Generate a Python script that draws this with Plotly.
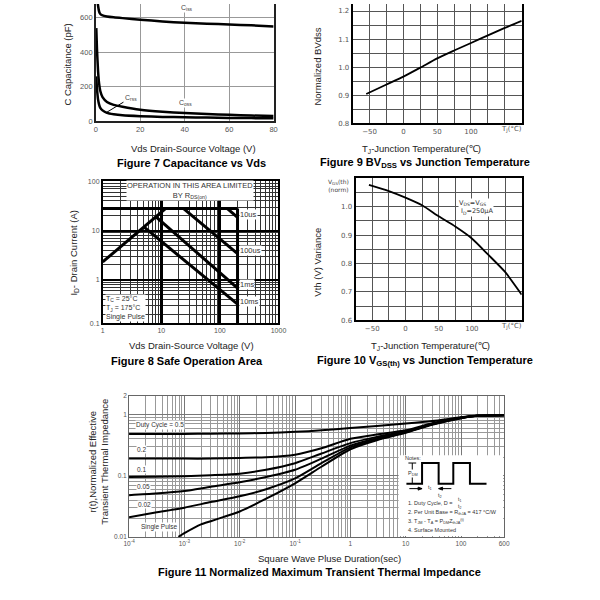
import math

import plotly.graph_objects as go

SANS = "Arial, 'Liberation Sans', sans-serif"
WIDE = "'DejaVu Sans', Verdana, sans-serif"

# Figure 7: capacitance vs Vds
ciss_vds = [0.3, 0.6, 1.0, 1.5, 2.0, 3.0, 5.0, 8.0, 12, 20, 30, 40, 50, 60, 70, 80]
ciss_pf = [850, 730, 670, 635, 622, 614, 608, 603, 598, 589, 579, 571, 566, 561, 556, 550]
coss_vds = [0.2, 0.5, 1.0, 1.5, 2.0, 3.0, 5.0, 8.0, 12, 20, 30, 40, 50, 60, 70, 80]
coss_pf = [540, 420, 290, 215, 175, 140, 112, 95, 84, 67, 55, 47, 42, 37, 33, 30]
crss_vds = [0.2, 0.5, 1.0, 1.5, 2.0, 3.0, 5.0, 8.0, 12, 20, 30, 40, 50, 60, 70, 80]
crss_pf = [260, 190, 125, 95, 78, 63, 48, 40, 34, 29, 25, 23, 21, 19, 18, 17]

# Figure 9: normalized BVdss vs Tj
bv_tj = [-55, -25, 0, 25, 50, 75, 100, 125, 150, 175]
bv_norm = [0.904, 0.938, 0.966, 0.998, 1.031, 1.059, 1.086, 1.113, 1.14, 1.165]

# Figure 10: normalized Vgs(th) vs Tj
vth_tj = [-55, -25, 0, 25, 50, 75, 100, 125, 150, 175]
vth_norm = [1.077, 1.055, 1.032, 1.005, 0.966, 0.93, 0.888, 0.83, 0.77, 0.69]

# Figure 8: safe operating area
rds_v, rds_i = [1, 11.8], [2.3, 28]
ilim_v, ilim_i = [1, 200], [28, 28]
vmax_v, vmax_i = [200, 200], [28, 0.1]
soa_lines = {
    "10us": ([134, 200], [28, 18.6], 21.5),
    "100us": ([24, 200], [28, 3.4], 3.85),
    "1ms": ([8.3, 200], [18.5, 0.68], 0.8),
    "10ms": ([5.1, 200], [11.7, 0.32], 0.36),
}

# Figure 11: transient thermal impedance
pulse_t = [1e-4, 3e-4, 1e-3, 3e-3, 1e-2, 3e-2, 1e-1, 3e-1, 1, 3, 10, 30, 100, 200, 600]
zth_duty = {
    "0.5": [0.48, 0.48, 0.48, 0.485, 0.49, 0.50, 0.52, 0.55, 0.60, 0.65, 0.71, 0.78, 0.90, 0.96, 0.97],
    "0.2": [0.19, 0.19, 0.19, 0.19, 0.195, 0.20, 0.22, 0.28, 0.40, 0.47, 0.55, 0.72, 0.89, 0.95, 0.97],
    "0.1": [0.095, 0.096, 0.098, 0.102, 0.108, 0.125, 0.16, 0.23, 0.34, 0.43, 0.53, 0.70, 0.88, 0.95, 0.97],
    "0.05": [0.048, 0.051, 0.056, 0.066, 0.078, 0.095, 0.125, 0.19, 0.31, 0.41, 0.52, 0.69, 0.88, 0.95, 0.97],
    "0.02": [0.021, 0.025, 0.030, 0.037, 0.046, 0.06, 0.09, 0.16, 0.29, 0.39, 0.51, 0.69, 0.87, 0.95, 0.97],
}
single_t = [7.8e-4, 1e-3, 2e-3, 3e-3, 5e-3, 1e-2, 3e-2, 1e-1, 3e-1, 1, 3, 10, 30, 100, 200, 600]
single_z = [0.010, 0.0115, 0.016, 0.018, 0.021, 0.026, 0.042, 0.075, 0.14, 0.27, 0.38, 0.50, 0.68, 0.87, 0.95, 0.97]


def X(px):
    return px / 600


def Y(py):
    return 1 - py / 600


def log_minor(e0, e1, vmin=0, vmax=1e9):
    out = []
    for e in range(e0, e1 + 1):
        for m in range(2, 10):
            v = m * 10 ** e
            if vmin < v < vmax:
                out.append(v)
    return out


def curve(x, y, ax, width=2.5):
    return go.Scatter(
        x=x, y=y, mode="lines", xaxis="x" + ax, yaxis="y" + ax,
        line=dict(color="black", width=width, shape="spline", smoothing=0.6),
        showlegend=False, hoverinfo="skip",
    )


def label(x, y, text, size=9.5, bold=False, angle=0, family=SANS, color="#222",
          xanchor="center", align="center", bg=None, xref="paper", yref="paper"):
    d = dict(
        x=x, y=y, xref=xref, yref=yref, text=f"<b>{text}</b>" if bold else text,
        showarrow=False, textangle=angle, xanchor=xanchor, yanchor="middle",
        align=align, font=dict(family=family, size=size, color=color), borderpad=0,
    )
    if bg:
        d["bgcolor"] = bg
    return d


fig = go.Figure()

fig.add_trace(curve(ciss_vds, ciss_pf, "1"))
fig.add_trace(curve(coss_vds, coss_pf, "1"))
fig.add_trace(curve(crss_vds, crss_pf, "1"))
fig.add_trace(curve(bv_tj, bv_norm, "2", width=1.8))
fig.add_trace(curve(rds_v, rds_i, "3", width=3))
fig.add_trace(curve(ilim_v, ilim_i, "3", width=3))
fig.add_trace(curve(vmax_v, vmax_i, "3", width=3))
for v, i, _ in soa_lines.values():
    fig.add_trace(curve(v, i, "3", width=3))
fig.add_trace(curve(vth_tj, vth_norm, "4", width=1.8))
for z in zth_duty.values():
    fig.add_trace(curve(pulse_t, z, "5", width=2))
fig.add_trace(curve(single_t, single_z, "5", width=2))

tick_font = dict(family=SANS, size=7.5, color="#555")
wide_tick = dict(family=WIDE, size=7, color="#555")
base = dict(showline=True, ticks="", zeroline=False, showgrid=True)
lin_minor = dict(tickmode="array", showgrid=True, gridcolor="#555", gridwidth=1, ticks="")

temp_vals = [-50, 0, 50, 100]
temp_text = ["\u221250", "0", "50", "100"]
temp_minor = [-25, 25, 75, 125, 150]

fig.update_layout(
    width=600, height=600, margin=dict(l=0, r=0, t=0, b=0),
    paper_bgcolor="white", plot_bgcolor="white", showlegend=False,
    xaxis1=dict(base, domain=[X(92), X(274)], anchor="y1", range=[0, 80],
                tickvals=[0, 20, 40, 60, 80], linecolor="#222", linewidth=1.5,
                gridcolor="#999", gridwidth=1, tickfont=tick_font),
    yaxis1=dict(base, domain=[Y(119), 1], anchor="x1", range=[0, 680], mirror=True,
                tickvals=[0, 200, 400, 600], linecolor="#222", linewidth=1.5,
                gridcolor="#999", gridwidth=1, tickfont=tick_font),
    xaxis2=dict(base, domain=[X(355), X(528)], anchor="y2", range=[-75, 175],
                tickvals=temp_vals, ticktext=temp_text, linecolor="black", linewidth=2,
                gridcolor="#555", gridwidth=1, tickfont=wide_tick,
                minor=dict(lin_minor, tickvals=temp_minor)),
    yaxis2=dict(base, domain=[Y(121), 1], anchor="x2", range=[0.8, 1.225], mirror=True,
                tickvals=[0.8, 0.9, 1.0, 1.1, 1.2], ticktext=["0.8", "0.9", "1.0", "1.1", "1.2"],
                linecolor="black", linewidth=2, gridcolor="#555", gridwidth=1,
                tickfont=wide_tick, minor=dict(lin_minor, tickvals=[0.85, 0.95, 1.05, 1.15])),
    xaxis3=dict(base, type="log", domain=[X(99), X(279)], anchor="y3", range=[0, 3],
                mirror=True, tickvals=[1, 10, 100, 1000], ticktext=["1", "10", "100", "1000"],
                linecolor="black", linewidth=1.5, gridcolor="black", gridwidth=2.5,
                tickfont=dict(tick_font, size=7),
                minor=dict(tickmode="array", tickvals=log_minor(0, 2), showgrid=True,
                           gridcolor="#333", gridwidth=0.8, ticks="")),
    yaxis3=dict(base, type="log", domain=[Y(324), Y(180)], anchor="x3",
                range=[-0.88, 2], mirror=True, tickvals=[0.1318, 1, 10, 100],
                ticktext=["0.1", "1", "10", "100"], linecolor="black", linewidth=1.5,
                gridcolor="black", gridwidth=2, tickfont=dict(tick_font, size=7),
                minor=dict(tickmode="array", tickvals=log_minor(-1, 1, 0.14), showgrid=True,
                           gridcolor="#333", gridwidth=0.8, ticks="")),
    xaxis4=dict(base, domain=[X(358), X(528)], anchor="y4", range=[-75, 175], mirror=True,
                tickvals=temp_vals, ticktext=temp_text, linecolor="black", linewidth=2,
                gridcolor="#555", gridwidth=1, tickfont=wide_tick,
                minor=dict(lin_minor, tickvals=temp_minor)),
    yaxis4=dict(base, domain=[Y(321), Y(177)], anchor="x4", range=[0.6, 1.1], mirror=True,
                tickvals=[0.6, 0.7, 0.8, 0.9, 1.0], ticktext=["0.6", "0.7", "0.8", "0.9", "1.0"],
                linecolor="black", linewidth=2, gridcolor="#555", gridwidth=1,
                tickfont=wide_tick,
                minor=dict(lin_minor, tickvals=[0.65, 0.75, 0.85, 0.95, 1.05])),
    xaxis5=dict(base, type="log", domain=[X(126), X(510)], anchor="y5",
                range=[-4, math.log10(600)], mirror=True,
                tickvals=[1e-4, 1e-3, 1e-2, 1e-1, 1, 10, 100, 600],
                ticktext=["10<sup>-4</sup>", "10<sup>-3</sup>", "10<sup>-2</sup>",
                          "10<sup>-1</sup>", "1", "10", "100", "600"],
                linecolor="#666", linewidth=1, gridcolor="#777", gridwidth=1,
                tickfont=dict(tick_font, size=6.5),
                minor=dict(tickmode="array", tickvals=log_minor(-4, 2, 0, 600), showgrid=True,
                           gridcolor="#999", gridwidth=0.8, ticks="")),
    yaxis5=dict(base, type="log", domain=[Y(541), Y(398)], anchor="x5",
                range=[-2, math.log10(2)], mirror=True, tickvals=[0.01, 0.1, 1, 2],
                ticktext=["0.01", "0.1", "1", "2"], linecolor="#666", linewidth=1,
                gridcolor="#777", gridwidth=1, tickfont=dict(tick_font, size=6.5),
                minor=dict(tickmode="array", tickvals=log_minor(-2, 0, 0, 2), showgrid=True,
                           gridcolor="#999", gridwidth=0.8, ticks="")),
)

ann = []
# Figure 7 texts
ann.append(label(X(63), Y(62), "C Capacitance (pF)", angle=-90))
ann.append(label(X(192), Y(147), "Vds Drain-Source Voltage (V)"))
ann.append(label(X(190), Y(161), "Figure 7 Capacitance vs Vds", size=11, bold=True, color="black"))
ann.append(label(41, 655, "C<sub>iss</sub>", size=7, bg="white", xref="x1", yref="y1", color="#444"))
ann.append(label(40.5, 108, "C<sub>oss</sub>", size=7, bg="white", xref="x1", yref="y1", color="#444"))
ann.append(dict(x=4.8, y=51, xref="x1", yref="y1", ax=15.8, ay=137, axref="x1", ayref="y1",
                text="C<sub>rss</sub>", showarrow=True, arrowhead=0, arrowwidth=1,
                arrowcolor="black", font=dict(family=SANS, size=7, color="#444")))

# Figure 9 texts
ann.append(label(X(318), Y(64), "Normalized BVdss", angle=-90))
ann.append(label(X(518), Y(127), "T<sub>J</sub>(\u00b0C)", size=7, family=WIDE, color="#555"))
ann.append(label(X(425), Y(147), "T<sub>J</sub>-Junction Temperature(\u2103)"))
ann.append(label(X(429), Y(161), "Figure 9 BV<sub>DSS</sub> vs Junction Temperature",
                 size=11, bold=True, color="black"))

# Figure 8 texts
ann.append(label(X(70), Y(252), "I<sub>D</sub>- Drain Current (A)", angle=-90))
ann.append(label(X(190), Y(347), "Vds Drain-Source Voltage (V)"))
ann.append(label(X(185), Y(362), "Figure 8 Safe Operation Area", size=11, bold=True, color="black"))
ann.append(label(X(188), Y(189), "OPERATION IN THIS AREA LIMITED<br>BY R<sub>DS(on)</sub>",
                 size=7.5, bg="white", color="#333"))
ann.append(label(X(101), Y(309), "T<sub>C</sub> = 25\u00b0C<br>T<sub>J</sub> = 175\u00b0C<br>Single Pulse",
                 size=7, bg="white", color="#333", xanchor="left", align="left"))
for name, (v, i, ypos) in soa_lines.items():
    ann.append(label(math.log10(212), math.log10(ypos), name, size=7.5, bg="white",
                     color="#333", xanchor="left", xref="x3", yref="y3"))

# Figure 10 texts
ann.append(label(X(319), Y(262), "Vth (V) Variance", angle=-90))
ann.append(label(X(518), Y(327), "T<sub>J</sub>(\u00b0C)", size=7, family=WIDE, color="#555"))
ann.append(label(X(435), Y(347), "T<sub>J</sub>-Junction Temperature(\u2103)"))
ann.append(label(X(429), Y(362), "Figure 10 V<sub>GS(th)</sub> vs Junction Temperature",
                 size=11, bold=True, color="black"))
ann.append(label(X(340), Y(184), "V<sub>GS</sub>(th)<br>(norm)", size=6, family=WIDE, color="#444"))
ann.append(label(X(463), Y(207), "V<sub>DS</sub>=V<sub>GS</sub><br> I<sub>D</sub>=250\u03bcA",
                 size=6.5, family=WIDE, color="#333", xanchor="left", align="left", bg="white"))

# Figure 11 texts
ann.append(label(X(94), Y(465), "r(t),Normalized Effective<br>Transient Thermal Impedance",
                 angle=-90))
ann.append(label(X(331), Y(563), "Square Wave Pluse Duration(sec)"))
ann.append(label(X(321), Y(577), "Figure 11 Normalized Maximum Transient Thermal Impedance",
                 size=11, bold=True, color="black"))
duty_pos = [("Duty Cycle = 0.5", 132, 427), ("0.2", 133, 452), ("0.1", 133, 473),
            ("0.05", 133, 490), ("0.02", 134, 508), ("Single Pulse", 137, 531)]
for txt, lx, ly in duty_pos:
    ann.append(label(X(lx), Y(ly), txt, size=6.5, color="#333", xanchor="left", bg="white"))

# Notes box in Figure 11
ann.append(label(X(408), Y(461), "Notes:", size=5.5, color="#333", xanchor="left"))
ann.append(label(X(417), Y(477), "P<sub>DM</sub>", size=5.5, color="#333", bg="white"))
ann.append(label(X(434), Y(491), "t<sub>1</sub>", size=5.5, color="#333"))
ann.append(label(X(444), Y(499), "t<sub>2</sub>", size=5.5, color="#333"))
ann.append(label(X(411), Y(507), "1. Duty Cycle, D =", size=5.5, color="#333", xanchor="left"))
ann.append(label(X(464), Y(507), "t<sub>1</sub><br>t<sub>2</sub>", size=5, color="#333"))
ann.append(label(X(411), Y(516), "2. Per Unit Base = R<sub>thJA</sub> = 417 \u00b0C/W",
                 size=5.5, color="#333", xanchor="left"))
ann.append(label(X(411), Y(525), "3. T<sub>JM</sub> - T<sub>A</sub> = P<sub>DM</sub>Z<sub>thJA</sub><sup>(t)</sup>",
                 size=5.5, color="#333", xanchor="left"))
ann.append(label(X(411), Y(534), "4. Surface Mounted", size=5.5, color="#333", xanchor="left"))


def pth(points, close=False):
    s = " ".join(("M" if k == 0 else "L") + f" {X(a):.4f} {Y(b):.4f}" for k, (a, b) in enumerate(points))
    return s + (" Z" if close else "")


wave = pth([(410, 487), (426, 487), (426, 466), (443, 466), (443, 487), (458, 487),
            (458, 466), (475, 466), (475, 487), (492, 487)])
thin = dict(color="black", width=1)
shapes = [
    dict(type="rect", xref="paper", yref="paper", x0=X(402), x1=X(509), y0=Y(540),
         y1=Y(458), fillcolor="white", line=dict(width=0), layer="above"),
    dict(type="path", xref="paper", yref="paper", path=wave,
         line=dict(color="black", width=2), layer="above"),
    dict(type="path", xref="paper", yref="paper", path=pth([(416, 466), (416, 487)]),
         line=thin, layer="above"),
    dict(type="path", xref="paper", yref="paper", path=pth([(412, 466), (420, 466)]),
         line=thin, layer="above"),
    dict(type="path", xref="paper", yref="paper", path=pth([(413, 492), (426, 492)]),
         line=thin, layer="above"),
    dict(type="path", xref="paper", yref="paper", path=pth([(426, 492), (422, 490.5), (422, 493.5)], True),
         line=thin, fillcolor="black", layer="above"),
    dict(type="path", xref="paper", yref="paper", path=pth([(456, 492), (443, 492)]),
         line=thin, layer="above"),
    dict(type="path", xref="paper", yref="paper", path=pth([(443, 492), (447, 490.5), (447, 493.5)], True),
         line=thin, fillcolor="black", layer="above"),
]

fig.update_layout(annotations=ann, shapes=shapes)

fig.write_html("out.html", config={"displayModeBar": False},
               post_script="document.body.style.margin='0';")
